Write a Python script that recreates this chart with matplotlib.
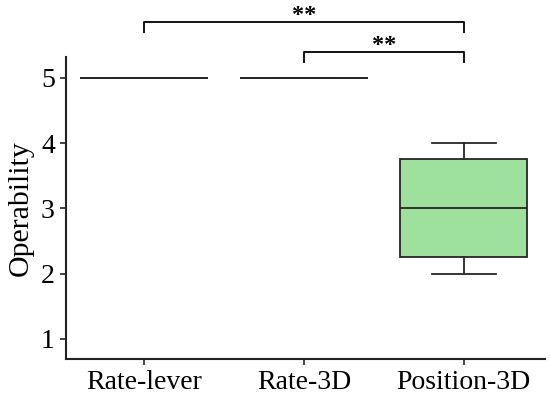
import matplotlib
matplotlib.use('Agg')
import matplotlib.pyplot as plt

# ---data
conditions = ['Rate-lever', 'Rate-3D', 'Position-3D']
rate_lever = [5, 5, 5, 5, 5, 5]
rate_3d = [5, 5, 5, 5, 5, 5]
position_3d = [2, 2, 3, 3, 4, 4]
pairs = [(0, 2, '**'), (1, 2, '**')]
bracket_y = [5.858, 5.398]
yticks = [1, 2, 3, 4, 5]

plt.rcParams['font.family'] = ['Liberation Serif', 'DejaVu Serif']
plt.rcParams['font.size'] = 20

fig = plt.figure(figsize=(5.5, 3.97), dpi=100)
ax = fig.add_axes([0.12, 0.0957, 0.871, 0.761])

edge = '#262626'
bp = ax.boxplot([rate_lever, rate_3d, position_3d], positions=range(3), widths=0.8,
                patch_artist=True, showfliers=False,
                boxprops=dict(facecolor='#9de19c', edgecolor=edge, linewidth=1.3),
                medianprops=dict(color=edge, linewidth=1.3),
                whiskerprops=dict(color=edge, linewidth=1.3),
                capprops=dict(color=edge, linewidth=1.3))

ax.set_xlim(-0.49, 2.51)
ax.set_ylim(0.69, 5.32)
ax.set_xticks(range(3))
ax.set_xticklabels(conditions)
ax.set_yticks(yticks)
ax.set_ylabel('Operability', fontsize=21.5, labelpad=5)

for s in ['top', 'right']:
    ax.spines[s].set_visible(False)
for s in ['left', 'bottom']:
    ax.spines[s].set_linewidth(1.5)
    ax.spines[s].set_color('#222222')
ax.tick_params(direction='out', length=4, width=1.2, color='#222222', pad=4)

# ---significance brackets
for (a, b, lab), y in zip(pairs, bracket_y):
    h = 0.153
    ax.plot([a, a, b, b], [y - h, y, y, y - h], color='#111111', lw=1.4, clip_on=False)
    ax.text((a + b) / 2, y + 0.012, lab, ha='center', va='baseline', fontsize=17.5,
            fontweight='bold', clip_on=False)

fig.savefig('out.png', dpi=100)
